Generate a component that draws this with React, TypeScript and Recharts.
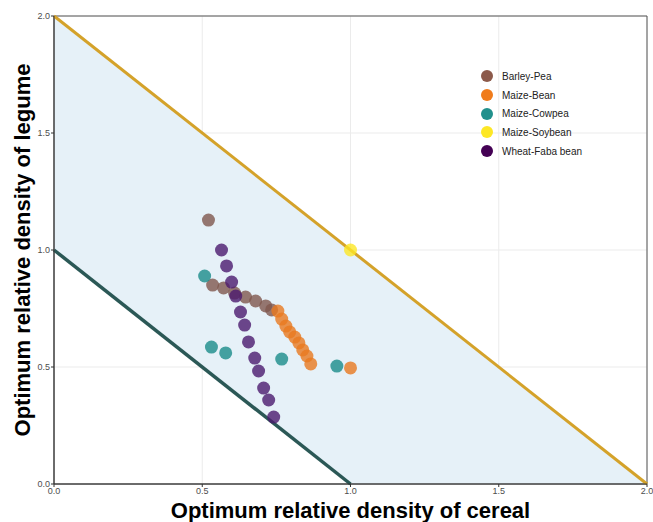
import {
  ComposedChart,
  Area,
  Line,
  Scatter,
  XAxis,
  YAxis,
  CartesianGrid,
  ReferenceArea,
} from 'recharts'

const FONT = '"Liberation Sans", Arial, sans-serif'

// shaded feasible band between x+y=1 and x+y=2
const bandX = [0, 1, 2]
const bandHi = [2, 1, 0]
const bandLo = [1, 0, 0]

const upperLine = [
  { x: 0, y: 2 },
  { x: 2, y: 0 },
]
const lowerLine = [
  { x: 0, y: 1 },
  { x: 1, y: 0 },
]

const barleyPeaX = [0.521, 0.535, 0.572, 0.609, 0.646, 0.68, 0.714, 0.734]
const barleyPeaY = [1.128, 0.85, 0.838, 0.816, 0.799, 0.782, 0.761, 0.744]

const maizeBeanX = [0.755, 0.768, 0.782, 0.795, 0.812, 0.826, 0.839, 0.853, 0.866, 1.0]
const maizeBeanY = [0.739, 0.705, 0.675, 0.65, 0.628, 0.603, 0.573, 0.547, 0.513, 0.496]

const maizeCowpeaX = [0.508, 0.531, 0.579, 0.768, 0.954]
const maizeCowpeaY = [0.889, 0.585, 0.56, 0.534, 0.504]

const maizeSoybeanX = [1.0]
const maizeSoybeanY = [1.0]

const wheatFabaX = [0.565, 0.582, 0.599, 0.613, 0.629, 0.643, 0.656, 0.677, 0.69, 0.707, 0.724, 0.741]
const wheatFabaY = [1.0, 0.932, 0.863, 0.803, 0.735, 0.679, 0.607, 0.538, 0.483, 0.41, 0.359, 0.286]

const ticks = [0, 0.5, 1, 1.5, 2]

const series = [
  { name: 'Barley-Pea', xs: barleyPeaX, ys: barleyPeaY, color: '#8c5a4b', point: '#7f574d' },
  { name: 'Maize-Bean', xs: maizeBeanX, ys: maizeBeanY, color: '#f07c1c', point: '#e8791f' },
  { name: 'Maize-Cowpea', xs: maizeCowpeaX, ys: maizeCowpeaY, color: '#21908c', point: '#1a8c8a' },
  { name: 'Maize-Soybean', xs: maizeSoybeanX, ys: maizeSoybeanY, color: '#fde725', point: '#fde725' },
  { name: 'Wheat-Faba bean', xs: wheatFabaX, ys: wheatFabaY, color: '#440154', point: '#4b1a6e' },
]

const bandData = bandX.map((x, i) => ({ x, band: [bandLo[i], bandHi[i]] }))

// legend drawn as an overlay so it doesn't eat plot space
function LegendBox() {
  return (
    <div
      style={{
        position: 'absolute',
        left: 480,
        top: 67,
        fontFamily: FONT,
        fontSize: 10,
        color: '#222',
      }}
    >
      {series.map((s) => (
        <div key={s.name} style={{ display: 'flex', alignItems: 'center', height: 18.7 }}>
          <svg width={14} height={14} style={{ marginRight: 8 }}>
            <circle cx={7} cy={7} r={6} fill={s.color} />
          </svg>
          <span>{s.name}</span>
        </div>
      ))}
    </div>
  )
}

export default function App() {
  return (
    <div style={{ position: 'absolute', left: 0, top: 0, width: 653, height: 522, background: '#fff' }}>
      <ComposedChart
        width={653}
        height={522}
        data={bandData}
        margin={{ top: 16, right: 6, bottom: 0, left: 0 }}
      >
        <CartesianGrid stroke="#ebebeb" strokeWidth={1} />
        <XAxis
          type="number"
          dataKey="x"
          domain={[0, 2]}
          ticks={ticks}
          tickFormatter={(v: number) => v.toFixed(1)}
          tick={{ fill: '#4d4d4d', fontSize: 9, fontFamily: FONT }}
          tickSize={3}
          tickMargin={1}
          stroke="#333"
          height={38}
          label={{
            value: 'Optimum relative density of cereal',
            position: 'insideBottom',
            offset: 4,
            style: { fontFamily: FONT, fontSize: 22, fontWeight: 'bold', fill: '#000' },
          }}
        />
        <YAxis
          type="number"
          domain={[0, 2]}
          ticks={ticks}
          tickFormatter={(v: number) => v.toFixed(1)}
          tick={{ fill: '#4d4d4d', fontSize: 9, fontFamily: FONT }}
          tickSize={3}
          tickMargin={1}
          stroke="#333"
          width={54}
          label={{
            value: 'Optimum relative density of legume',
            angle: -90,
            position: 'center',
            dx: -5,
            style: { fontFamily: FONT, fontSize: 22, fontWeight: 'bold', fill: '#000', textAnchor: 'middle' },
          }}
        />
        <Area
          dataKey="band"
          type="linear"
          stroke="none"
          fill="#e6f1f8"
          fillOpacity={1}
          isAnimationActive={false}
          legendType="none"
        />
        <Line
          data={upperLine}
          dataKey="y"
          type="linear"
          stroke="#d4a22a"
          strokeWidth={3}
          dot={false}
          isAnimationActive={false}
          legendType="none"
        />
        <Line
          data={lowerLine}
          dataKey="y"
          type="linear"
          stroke="#2b5856"
          strokeWidth={3.5}
          dot={false}
          isAnimationActive={false}
          legendType="none"
        />
        {series.map((s) => (
          <Scatter
            key={s.name}
            name={s.name}
            data={s.xs.map((x, i) => ({ x, y: s.ys[i] }))}
            dataKey="y"
            fill={s.point}
            isAnimationActive={false}
            shape={(p: any) => (
              <circle cx={p.cx} cy={p.cy} r={6.5} fill={s.point} fillOpacity={0.8} />
            )}
          />
        ))}
        <ReferenceArea x1={0} x2={2} y1={0} y2={2} fill="none" stroke="#555" strokeWidth={1} ifOverflow="visible" />
      </ComposedChart>
      <LegendBox />
    </div>
  )
}
